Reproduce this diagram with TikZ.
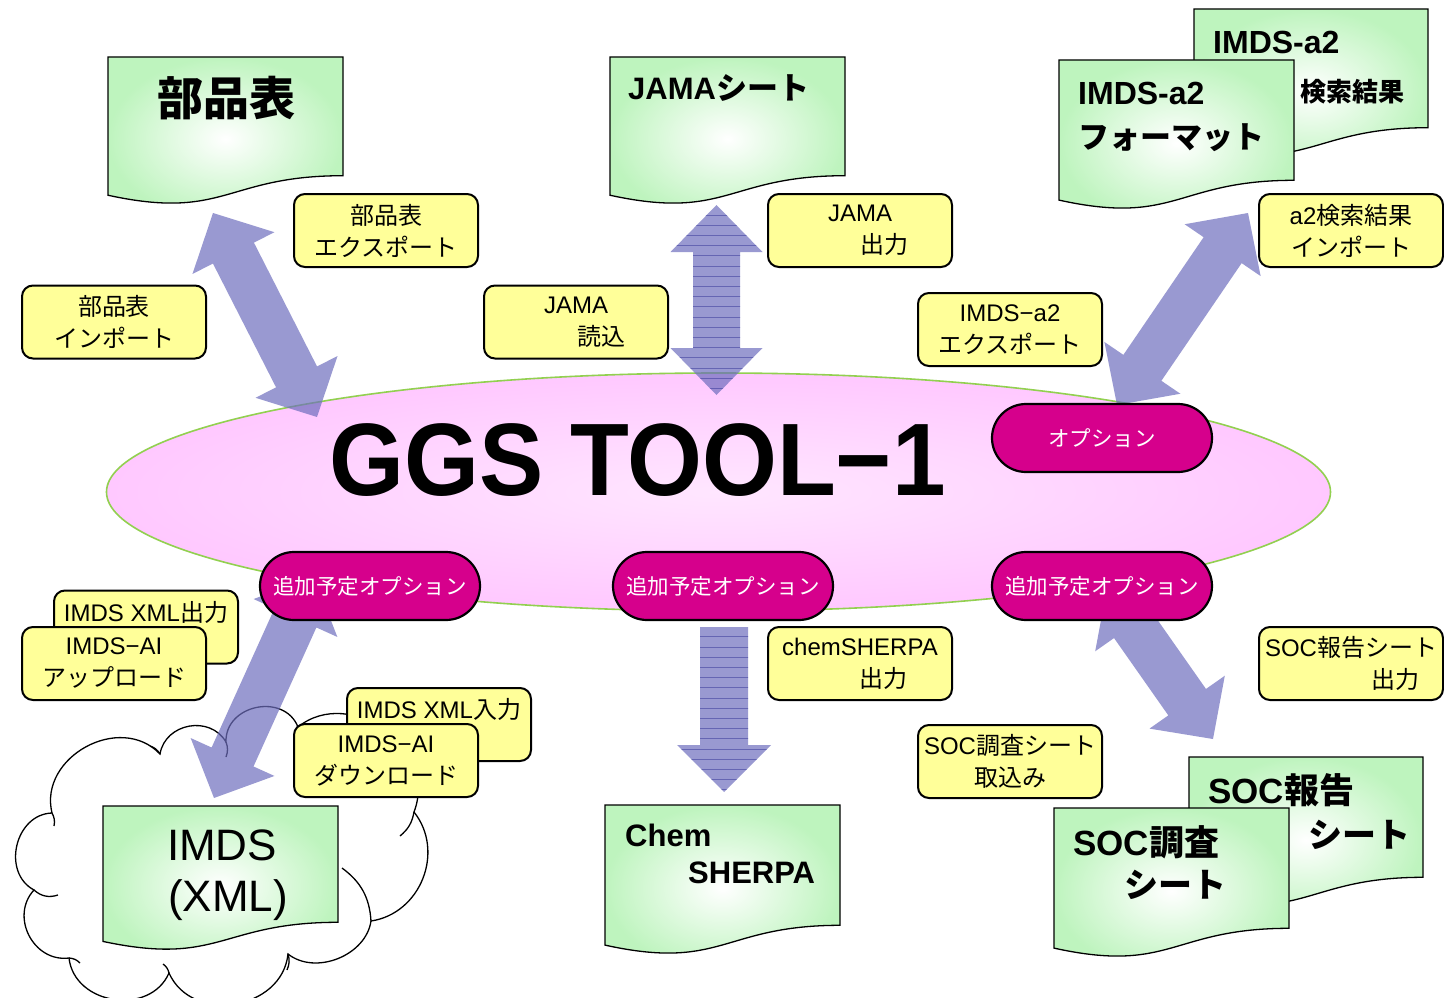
\documentclass[tikz,border=0pt]{standalone}
\usepackage{fontspec}
\setmainfont{Noto Sans CJK JP}
\newfontfamily\lat{Liberation Sans}
\usetikzlibrary{calc,shapes.geometric}
\definecolor{docgreen}{RGB}{190,244,190}
\definecolor{callyellow}{RGB}{255,255,153}
\definecolor{pillmag}{RGB}{214,0,140}
\definecolor{ellgreen}{RGB}{146,208,80}
\definecolor{ellpinkin}{RGB}{255,230,255}
\definecolor{ellpinkout}{RGB}{255,200,255}
\definecolor{arrblue}{RGB}{110,110,190}
\definecolor{hatchblue}{RGB}{50,50,150}
\tikzset{
 doc/.style={draw=black, line width=1.3pt, inner color=white, outer color=docgreen},
 callout/.style={draw=black, line width=2pt, rounded corners=11pt, fill=callyellow, minimum width=184pt, minimum height=73pt, align=center, inner sep=0pt, font=\fontsize{24}{32}\selectfont},
 pill/.style={draw=black, line width=2.2pt, rounded corners=34pt, fill=pillmag, minimum width=220pt, minimum height=68pt, text=white, font=\fontsize{21.5}{26}\selectfont, inner sep=0pt},
 arrowfill/.style={fill=arrblue, fill opacity=0.7},
 hatch/.style={draw=hatchblue, line width=0.7pt, opacity=0.5},
 cloudline/.style={draw=black, line width=1.3pt},
 puff/.style={bend left=75, looseness=1.2},
 doctext/.style={inner sep=0pt, anchor=west, font=\bfseries\fontsize{31}{36}\selectfont},
}
\newcommand\docshape[5]{%
 \path[doc] (#2,#3) -- ({#2+#4},#3) -- ({#2+#4},{#3+0.802*#5}) .. controls ({#2+0.5*#4},{#3+0.802*#5}) and ({#2+0.5*#4},{#3+1.107*#5}) .. (#2,{#3+0.934*#5}) -- cycle;
 \coordinate (#1) at ({#2+0.5*#4},{#3+0.5*#5});}
\newcommand\arrcalc[2]{\path let \p1=(#1), \p2=(#2), \n1={atan2(\y2-\y1,\x2-\x1)}, \n2={veclen(\x2-\x1,\y2-\y1)} in \pgfextra{\xdef\arrang{\n1}\xdef\arrlen{\n2}};}
\newcommand\dblarrow[2]{\arrcalc{#1}{#2}%
 \begin{scope}[shift={(#1)},rotate=\arrang]
 \fill[arrowfill] (0,0) -- (45,46) -- (45,23) -- ({\arrlen-45},23) -- ({\arrlen-45},46) -- (\arrlen,0) -- ({\arrlen-45},-46) -- ({\arrlen-45},-23) -- (45,-23) -- (45,-46) -- cycle;
 \end{scope}}
\newcommand\hatchdbl[2]{\arrcalc{#1}{#2}%
 \begin{scope}[shift={(#1)},rotate=\arrang]
 \fill[arrowfill] (0,0) -- (47,46) -- (47,23.5) -- ({\arrlen-47},23.5) -- ({\arrlen-47},46) -- (\arrlen,0) -- ({\arrlen-47},-46) -- ({\arrlen-47},-23.5) -- (47,-23.5) -- (47,-46) -- cycle;
 \clip (0,0) -- (47,46) -- (47,23.5) -- ({\arrlen-47},23.5) -- ({\arrlen-47},46) -- (\arrlen,0) -- ({\arrlen-47},-46) -- ({\arrlen-47},-23.5) -- (47,-23.5) -- (47,-46) -- cycle;
 \foreach \k in {0,...,18} \draw[hatch] ({10+10.2*\k},-60) -- ({10+10.2*\k},60);
 \end{scope}}
\newcommand\hatchsingle[2]{\arrcalc{#1}{#2}%
 \begin{scope}[shift={(#1)},rotate=\arrang]
 \fill[arrowfill] (0,24) -- ({\arrlen-47},24) -- ({\arrlen-47},47) -- (\arrlen,0) -- ({\arrlen-47},-47) -- ({\arrlen-47},-24) -- (0,-24) -- cycle;
 \clip (0,24) -- ({\arrlen-47},24) -- ({\arrlen-47},47) -- (\arrlen,0) -- ({\arrlen-47},-47) -- ({\arrlen-47},-24) -- (0,-24) -- cycle;
 \foreach \k in {0,...,16} \draw[hatch] ({9.7+10.2*\k},-60) -- ({9.7+10.2*\k},60);
 \end{scope}}
\begin{document}
\begin{tikzpicture}[x=1pt,y=-1pt]
\useasboundingbox (0,0) rectangle (1444,998);
\fill[white] (0,0) rectangle (1444,998);
% cloud
\path[cloudline, fill=white] (52,813) to[puff] (160,754) to[bend left=70, looseness=1.2] (226,742) to[bend left=80, looseness=1.3] (298,727) to[puff] (414,812) to[bend left=60,looseness=1.1] (371,921) to[bend left=60,looseness=1.0] (288,954) to[puff] (169,973) to[puff] (69,958) to[bend left=70,looseness=1.2] (34,890) to[puff] (52,813) -- cycle;
\draw[cloudline] (34,890) to[bend right=30] (58,895);
\draw[cloudline] (69,958) to[bend left=20] (80,963);
\draw[cloudline] (226,742) to[bend left=20] (226,757);
\draw[cloudline] (160,754) to[bend right=20] (150,746);
\draw[cloudline] (288,954) to[bend left=20] (287,970);
\draw[cloudline] (169,973) to[bend right=20] (163,964);
\draw[cloudline] (414,812) to[bend left=20] (400,836);
\draw[cloudline] (52,813) to[bend left=20] (54,826);
\draw[cloudline] (342,868) to[bend left=25] (371,921);
% main ellipse
\node[ellipse, draw=ellgreen, line width=1.6pt, inner color=ellpinkin, outer color=ellpinkout, minimum width=1224pt, minimum height=238pt, inner sep=0pt] (tool) at (718.5,492) {};
\node[inner sep=0pt, anchor=base] (title) at (637.5,495) {\scalebox{0.935}[1]{\lat\bfseries\fontsize{103}{110}\selectfont GGS TOOL−1}};
% arrow end points
\coordinate (a1s) at (213,213); \coordinate (a1e) at (317,417);
\coordinate (a2s) at (716.5,205); \coordinate (a2e) at (716.5,395);
\coordinate (a3s) at (1248,213); \coordinate (a3e) at (1117,405);
\coordinate (a4s) at (314,577); \coordinate (a4e) at (214,798);
\coordinate (a5s) at (1107,588); \coordinate (a5e) at (1213,739);
\coordinate (a6s) at (724,627); \coordinate (a6e) at (724,792);
\dblarrow{a1s}{a1e}
\hatchdbl{a2s}{a2e}
\dblarrow{a3s}{a3e}
\dblarrow{a4s}{a4e}
\dblarrow{a5s}{a5e}
\hatchsingle{a6s}{a6e}
% pills
\node[pill] (opt) at (1102,438) {オプション};
\node[pill] (add1) at (370,586) {追加予定オプション};
\node[pill] (add2) at (723,586) {追加予定オプション};
\node[pill] (add3) at (1102,586) {追加予定オプション};
% documents
\docshape{dparts}{108}{57}{235}{148}
\node[doctext, anchor=center, font=\bfseries\fontsize{46}{50}\selectfont] (tparts) at (226,98) {部品表};
\docshape{djama}{610}{57}{235}{148}
\node[doctext] (tjama) at (628,88) {{\lat JAMA}シート};
\docshape{dsearch}{1194}{9}{234}{148}
\node[doctext, font=\bfseries\fontsize{32}{36}\selectfont] (tsearch1) at (1213,42) {\lat IMDS-a2};
\node[doctext, font=\bfseries\fontsize{26}{30}\selectfont] (tsearch2) at (1300,92) {検索結果};
\docshape{dformat}{1059}{60}{235}{150}
\node[doctext, font=\bfseries\fontsize{32}{36}\selectfont] (tformat1) at (1078,93) {\lat IMDS-a2};
\node[doctext, font=\bfseries\fontsize{31}{36}\selectfont] (tformat2) at (1078,138) {フォーマット};
\docshape{dimds}{103}{806}{235}{145}
\node[inner sep=0pt, font=\lat\fontsize{44}{48}\selectfont] (timds1) at (222,845) {IMDS};
\node[inner sep=0pt, font=\lat\fontsize{44}{48}\selectfont] (timds2) at (228,900) {(XML)};
\docshape{dchem}{605}{805}{235}{150}
\node[doctext] (tchem1) at (625,835) {\lat Chem};
\node[doctext] (tchem2) at (688,873) {\lat SHERPA};
\docshape{dsocr}{1189}{757}{234}{150}
\node[doctext, font=\bfseries\fontsize{35}{38}\selectfont] (tsocr1) at (1208,790) {{\lat SOC}報告};
\node[doctext, font=\bfseries\fontsize{34}{38}\selectfont] (tsocr2) at (1308,835) {シート};
\docshape{dsocs}{1054}{808}{235}{150}
\node[doctext, font=\bfseries\fontsize{35}{38}\selectfont] (tsocs1) at (1073,842) {{\lat SOC}調査};
\node[doctext, font=\bfseries\fontsize{34}{38}\selectfont] (tsocs2) at (1124,885) {シート};
% callouts
\node[callout] (c1) at (386,230.5) {部品表\\エクスポート};
\node[callout] (c2) at (114,322) {部品表\\インポート};
\node[callout] (c3) at (860,230.5) {{\lat JAMA}\\\hspace*{48pt}出力};
\node[callout] (c4) at (576,322) {{\lat JAMA}\\\hspace*{50pt}読込};
\node[callout] (c5) at (1351,230.5) {{\lat a2}検索結果\\インポート};
\node[callout] (c6) at (1010,329.5) {{\lat IMDS−a2}\\エクスポート};
\node[callout] (c7) at (146,627) {{\lat IMDS XML}出力\\\mbox{}};
\node[callout] (c8) at (114,663.5) {{\lat IMDS−AI}\\アップロード};
\node[callout] (c9) at (439,724.5) {{\lat IMDS XML}入力\\\mbox{}};
\node[callout] (c10) at (386,760.5) {{\lat IMDS−AI}\\ダウンロード};
\node[callout] (c11) at (860,663.5) {{\lat chemSHERPA}\\\hspace*{46pt}出力};
\node[callout] (c12) at (1010,761.5) {{\lat SOC}調査シート\\取込み};
\node[callout] (c13) at (1351,663.5) {{\lat SOC}報告シート\\\hspace*{88pt}出力};
\end{tikzpicture}
\end{document}
